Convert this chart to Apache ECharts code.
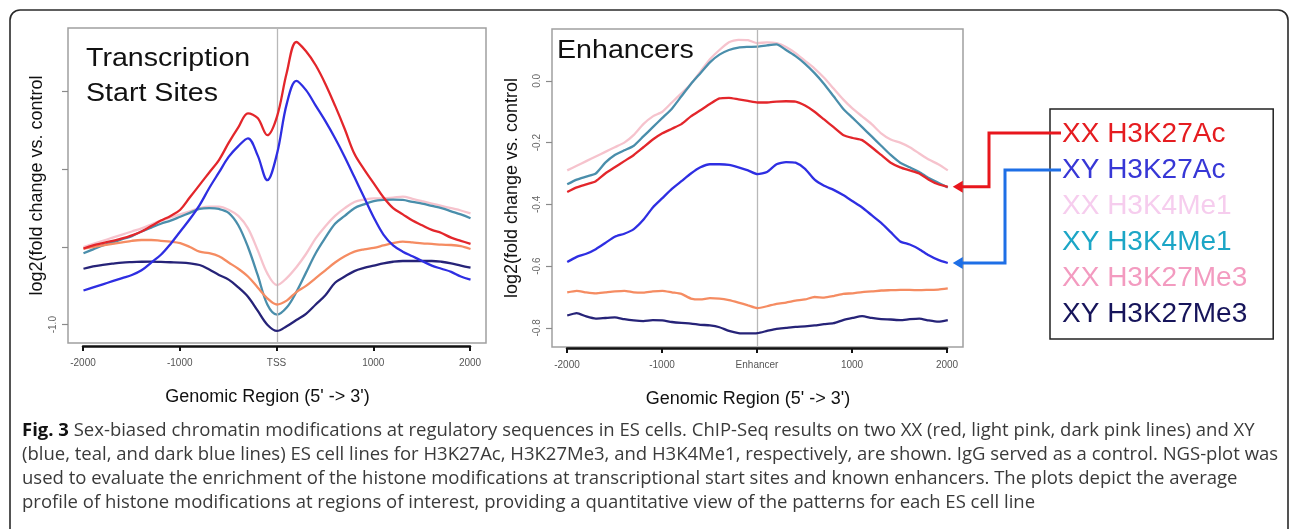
<!DOCTYPE html>
<html><head><meta charset="utf-8">
<script src="https://cdn.jsdelivr.net/npm/echarts@6/dist/echarts.min.js"></script>
<style>html,body{margin:0;padding:0;background:#fff}#c{width:1290px;height:529px}</style>
</head><body><div id="c"></div>
<script>
// ---- data ----
const positions = [-2000,-1900,-1800,-1700,-1600,-1500,-1400,-1300,-1200,-1100,-1000,-900,-800,-700,-600,-500,-400,-300,-200,-100,0,100,200,300,400,500,600,700,800,900,1000,1100,1200,1300,1400,1500,1600,1700,1800,1900,2000];
const seriesNames = ['XX H3K27Ac','XY H3K27Ac','XX H3K4Me1','XY H3K4Me1','XX H3K27Me3','XY H3K27Me3'];

// Transcription start sites
const tssXXK27Ac = [-0.51,-0.49,-0.475,-0.46,-0.445,-0.425,-0.40,-0.365,-0.33,-0.30,-0.26,-0.18,-0.10,-0.02,0.06,0.17,0.27,0.36,0.33,0.22,0.34,0.62,0.82,0.76,0.67,0.55,0.41,0.26,0.10,0.0,-0.09,-0.18,-0.25,-0.29,-0.33,-0.36,-0.39,-0.41,-0.44,-0.46,-0.48];
const tssXYK27Ac = [-0.78,-0.76,-0.74,-0.72,-0.70,-0.68,-0.65,-0.60,-0.55,-0.48,-0.40,-0.32,-0.23,-0.12,-0.02,0.08,0.15,0.20,0.09,-0.07,0.10,0.42,0.57,0.51,0.41,0.31,0.20,0.08,-0.05,-0.18,-0.31,-0.42,-0.49,-0.53,-0.56,-0.59,-0.62,-0.64,-0.66,-0.69,-0.71];
const tssXXK4Me1 = [-0.50,-0.48,-0.46,-0.44,-0.42,-0.40,-0.38,-0.355,-0.33,-0.31,-0.29,-0.27,-0.25,-0.24,-0.24,-0.26,-0.30,-0.38,-0.52,-0.67,-0.745,-0.70,-0.63,-0.545,-0.445,-0.366,-0.30,-0.25,-0.21,-0.195,-0.187,-0.187,-0.182,-0.176,-0.19,-0.205,-0.22,-0.235,-0.25,-0.265,-0.283];
const tssXYK4Me1 = [-0.54,-0.515,-0.49,-0.47,-0.45,-0.43,-0.40,-0.375,-0.35,-0.33,-0.305,-0.28,-0.255,-0.25,-0.255,-0.28,-0.36,-0.50,-0.68,-0.87,-0.935,-0.89,-0.79,-0.665,-0.54,-0.44,-0.35,-0.30,-0.25,-0.225,-0.205,-0.197,-0.195,-0.197,-0.21,-0.22,-0.235,-0.25,-0.27,-0.29,-0.315];
const tssXXK27Me3 = [-0.51,-0.50,-0.49,-0.48,-0.47,-0.46,-0.455,-0.455,-0.46,-0.465,-0.475,-0.50,-0.53,-0.54,-0.56,-0.60,-0.64,-0.69,-0.76,-0.83,-0.87,-0.845,-0.79,-0.75,-0.70,-0.65,-0.60,-0.56,-0.53,-0.515,-0.505,-0.49,-0.475,-0.465,-0.47,-0.477,-0.48,-0.485,-0.487,-0.495,-0.513];
const tssXYK27Me3 = [-0.64,-0.625,-0.615,-0.607,-0.60,-0.597,-0.595,-0.594,-0.596,-0.598,-0.60,-0.605,-0.616,-0.645,-0.68,-0.71,-0.76,-0.82,-0.91,-1.00,-1.04,-1.01,-0.97,-0.93,-0.87,-0.81,-0.73,-0.69,-0.655,-0.635,-0.62,-0.605,-0.595,-0.59,-0.59,-0.59,-0.59,-0.595,-0.605,-0.62,-0.633];

// Enhancers
const enhXXK27Ac = [-0.36,-0.345,-0.335,-0.325,-0.30,-0.28,-0.26,-0.24,-0.215,-0.19,-0.17,-0.155,-0.14,-0.115,-0.095,-0.075,-0.057,-0.055,-0.06,-0.065,-0.07,-0.07,-0.067,-0.066,-0.067,-0.08,-0.10,-0.125,-0.15,-0.175,-0.185,-0.192,-0.215,-0.24,-0.265,-0.28,-0.29,-0.30,-0.32,-0.335,-0.343];
const enhXYK27Ac = [-0.587,-0.57,-0.56,-0.545,-0.525,-0.505,-0.495,-0.48,-0.45,-0.41,-0.38,-0.35,-0.325,-0.30,-0.28,-0.27,-0.27,-0.272,-0.28,-0.29,-0.302,-0.295,-0.27,-0.263,-0.265,-0.285,-0.32,-0.34,-0.353,-0.37,-0.39,-0.41,-0.435,-0.46,-0.49,-0.52,-0.53,-0.545,-0.565,-0.58,-0.59];
const enhXXK4Me1 = [-0.29,-0.275,-0.26,-0.245,-0.23,-0.215,-0.20,-0.175,-0.14,-0.115,-0.10,-0.07,-0.04,-0.01,0.03,0.07,0.10,0.125,0.133,0.132,0.122,0.125,0.122,0.11,0.09,0.065,0.04,0.01,-0.025,-0.06,-0.09,-0.115,-0.14,-0.17,-0.19,-0.20,-0.215,-0.235,-0.255,-0.27,-0.29];
const enhXYK4Me1 = [-0.335,-0.32,-0.31,-0.30,-0.265,-0.24,-0.225,-0.21,-0.18,-0.15,-0.12,-0.09,-0.05,-0.01,0.025,0.06,0.085,0.10,0.108,0.11,0.111,0.115,0.118,0.10,0.08,0.055,0.025,-0.01,-0.05,-0.09,-0.12,-0.15,-0.18,-0.21,-0.24,-0.265,-0.28,-0.295,-0.315,-0.33,-0.345];
const enhXXK27Me3 = [-0.685,-0.68,-0.685,-0.688,-0.685,-0.682,-0.68,-0.685,-0.686,-0.682,-0.68,-0.685,-0.69,-0.705,-0.708,-0.704,-0.705,-0.71,-0.718,-0.727,-0.736,-0.73,-0.722,-0.718,-0.712,-0.708,-0.70,-0.702,-0.697,-0.69,-0.688,-0.684,-0.682,-0.679,-0.678,-0.677,-0.677,-0.678,-0.677,-0.676,-0.672];
const enhXYK27Me3 = [-0.76,-0.752,-0.763,-0.77,-0.768,-0.766,-0.772,-0.776,-0.778,-0.775,-0.776,-0.781,-0.784,-0.786,-0.79,-0.792,-0.798,-0.81,-0.817,-0.818,-0.817,-0.81,-0.803,-0.80,-0.797,-0.795,-0.792,-0.788,-0.785,-0.775,-0.768,-0.762,-0.768,-0.772,-0.773,-0.775,-0.772,-0.77,-0.776,-0.78,-0.775];

const tssTicks = [-1.0,-0.5,0.0,0.5];
const tssTickLabels = [-1.0];
const enhTicks = [-0.8,-0.6,-0.4,-0.2,0.0];
const xTicksLabelCenterTSS = 'TSS';
const xTicksLabelCenterEnh = 'Enhancer';

const lineColors = ['#e3262b','#2e2ee2','#f6c3cd','#4a8eab','#f58c62','#262378'];
const legendColors = ['#e51c20','#3737d6','#f6cdee','#1ca6c6','#f39bc0','#16145a'];

// ---- chart ----
const chart = echarts.init(document.getElementById('c'), null, {renderer:'canvas'});
const FONT = 'Liberation Sans';
const tssSets = [tssXXK27Ac,tssXYK27Ac,tssXXK4Me1,tssXYK4Me1,tssXXK27Me3,tssXYK27Me3];
const enhSets = [enhXXK27Ac,enhXYK27Ac,enhXXK4Me1,enhXYK4Me1,enhXXK27Me3,enhXYK27Me3];
const drawOrder = [2,3,4,5,0,1];

const centerLine = {silent:true, symbol:'none', label:{show:false},
  lineStyle:{color:'#b8b8b8', width:1.3, type:'solid'}, data:[{xAxis:0}]};

const series = [];
drawOrder.forEach((k,j)=>{
  series.push({type:'line', name:seriesNames[k], xAxisIndex:0, yAxisIndex:0,
    data: positions.map((x,i)=>[x, tssSets[k][i]]), smooth:0.35, showSymbol:false,
    lineStyle:{color:lineColors[k], width:2.3}, itemStyle:{color:lineColors[k]}, z:3+j,
    markLine: j===0 ? centerLine : undefined});
  series.push({type:'line', name:seriesNames[k], xAxisIndex:2, yAxisIndex:2,
    data: positions.map((x,i)=>[x, enhSets[k][i]]), smooth:0.2, showSymbol:false,
    lineStyle:{color:lineColors[k], width:2.3}, itemStyle:{color:lineColors[k]}, z:3+j,
    markLine: j===0 ? centerLine : undefined});
});

function xAxisVisible(grid, centerLabel){
  return {gridIndex:grid, type:'value', min:-2000, max:2000, interval:1000, position:'bottom',
    axisLine:{show:true, onZero:false, lineStyle:{color:'#111', width:2.5}},
    axisTick:{show:true, length:5, lineStyle:{color:'#111', width:2}},
    axisLabel:{margin:12, fontSize:10, color:'#555', fontFamily:FONT,
      formatter:v=> v===0 ? centerLabel : String(v)},
    splitLine:{show:false},
    name:"Genomic Region (5' -> 3')", nameLocation:'middle', nameGap:42,
    nameTextStyle:{fontSize:18, color:'#111', fontFamily:FONT, padding:[0,18,0,0]}};
}
function yAxisPlot(grid, min, max, ticks, labels, gap){
  return {gridIndex:grid, type:'value', min:min, max:max, position:'left',
    axisLine:{show:false, onZero:false},
    axisTick:{show:true, length:6, customValues:ticks, lineStyle:{color:'#8a8a8a', width:1.2}},
    axisLabel:{show:true, customValues:labels, rotate:90, margin:10, fontSize:10, color:'#666', fontFamily:FONT,
      formatter:v=>v.toFixed(1)},
    splitLine:{show:false},
    name:'log2(fold change vs. control', nameLocation:'middle', nameGap:gap,
    nameTextStyle:{fontSize:18, color:'#111', fontFamily:FONT}};
}

const option = {
  animation:false,
  backgroundColor:'#fff',
  grid:[
    {left:68, top:28, width:418, height:315, show:true, borderColor:'#a0a0a0', borderWidth:1.5, containLabel:false},
    {left:83, top:345, width:387, height:1},
    {left:552, top:29, width:411, height:318, show:true, borderColor:'#a0a0a0', borderWidth:1.5, containLabel:false},
    {left:567, top:347, width:380, height:1}
  ],
  xAxis:[
    {gridIndex:0, type:'value', min:-2160, max:2160, show:false},
    xAxisVisible(1, xTicksLabelCenterTSS),
    {gridIndex:2, type:'value', min:-2160, max:2160, show:false},
    xAxisVisible(3, xTicksLabelCenterEnh)
  ],
  yAxis:[
    yAxisPlot(0, -1.118, 0.91, tssTicks, tssTickLabels, 22),
    {gridIndex:1, type:'value', show:false},
    yAxisPlot(2, -0.862, 0.168, enhTicks, enhTicks, 31),
    {gridIndex:3, type:'value', show:false}
  ],
  legend:{
    orient:'vertical', left:1050, top:109, selectedMode:false,
    data: seriesNames.map((n,i)=>({name:n, textStyle:{color:legendColors[i]}})),
    icon:'rect', itemWidth:0, itemHeight:0, itemGap:8,
    textStyle:{fontSize:28, fontFamily:FONT, padding:[0,0,0,2]},
    borderColor:'#222', borderWidth:1.5, padding:[11,26,11,5]
  },
  series: series,
  graphic:[
    {id:'frame', type:'rect', silent:true, z:-10, shape:{x:10,y:10,width:1278,height:560,r:10},
      style:{fill:'none', stroke:'#2a2a2a', lineWidth:1.6}},
    {id:'t1', type:'text', x:86, y:41.5, scaleX:1.1, z:20,
      style:{text:'Transcription\nStart Sites', font:'26px "Liberation Sans"', lineHeight:35, fill:'#111', verticalAlign:'top'}},
    {id:'t2', type:'text', x:557, y:33.5, scaleX:1.1, z:20,
      style:{text:'Enhancers', font:'26px "Liberation Sans"', lineHeight:35, fill:'#111', verticalAlign:'top'}},
    {id:'c1', type:'text', x:22, y:431, style:{text:'{b|Fig. 3} Sex-biased chromatin modifications at regulatory sequences in ES cells. ChIP-Seq results on two XX (red, light pink, dark pink lines) and XY',
      font:'18.5px "Open Sans"', fill:'#3a3a3a', verticalAlign:'middle',
      rich:{b:{fontFamily:'Open Sans', fontSize:18.5, fontWeight:'bold', fill:'#111'}}}},
    {id:'c2', type:'text', x:22, y:455, style:{text:'(blue, teal, and dark blue lines) ES cell lines for H3K27Ac, H3K27Me3, and H3K4Me1, respectively, are shown. IgG served as a control. NGS-plot was',
      font:'18.5px "Open Sans"', fill:'#3a3a3a', verticalAlign:'middle'}},
    {id:'c3', type:'text', x:22, y:479, style:{text:'used to evaluate the enrichment of the histone modifications at transcriptional start sites and known enhancers. The plots depict the average',
      font:'18.5px "Open Sans"', fill:'#3a3a3a', verticalAlign:'middle'}},
    {id:'c4', type:'text', x:22, y:503, style:{text:'profile of histone modifications at regions of interest, providing a quantitative view of the patterns for each ES cell line',
      font:'18.5px "Open Sans"', fill:'#3a3a3a', verticalAlign:'middle'}}
  ]
};
chart.setOption(option);

// arrows from legend entries to the line ends (computed through the enhancer grid scale)
const pRed = chart.convertToPixel({gridIndex:2}, [2000, enhXXK27Ac[enhXXK27Ac.length-1]]);
const pBlue = chart.convertToPixel({gridIndex:2}, [2000, enhXYK27Ac[enhXYK27Ac.length-1]]);
function arrow(id, tip, rowY, elbowX, color){
  const tx = tip[0]+5, ty = tip[1];
  return [
    {id:id+'l', type:'polyline', silent:true, z:30,
      shape:{points:[[1061,rowY],[elbowX,rowY],[elbowX,ty],[tx+8,ty]]},
      style:{stroke:color, lineWidth:3, fill:'none'}},
    {id:id+'h', type:'polygon', silent:true, z:30,
      shape:{points:[[tx,ty],[tx+10,ty-6],[tx+10,ty+6]]},
      style:{fill:color}}
  ];
}
chart.setOption({graphic: [].concat(arrow('ar', pRed, 133, 989, '#e8161c'), arrow('ab', pBlue, 170, 1005, '#1e6fe6'))});
</script></body></html>
